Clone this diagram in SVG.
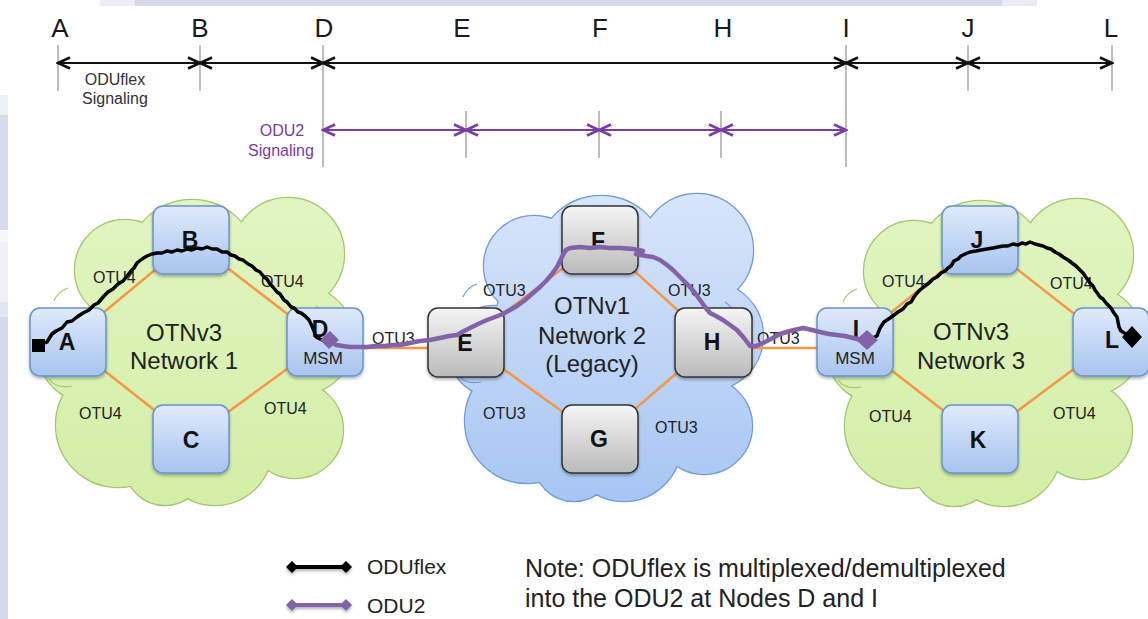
<svg xmlns="http://www.w3.org/2000/svg" xmlns:xlink="http://www.w3.org/1999/xlink" width="1148" height="619" viewBox="0 0 1148 619">
  <defs>
    <style>
      text { font-family: "Liberation Sans", Arial, sans-serif; }
      .letter { font-size: 26px; fill: #1a1a1a; text-anchor: middle; }
      .tick { stroke: #bdbdbd; stroke-width: 2; }
      .seg { stroke: #111; stroke-width: 2; fill: none; marker-start: url(#chevBlack); marker-end: url(#chevBlack); }
      .pseg { stroke: #7a3aa8; stroke-width: 2; fill: none; marker-start: url(#chevPurple); marker-end: url(#chevPurple); }
      .sig { font-size: 16px; fill: #333; text-anchor: middle; }
      .psig { font-size: 16px; fill: #7a3aa8; text-anchor: middle; }
      .link { stroke: #f79646; stroke-width: 2.5; }
      .otu { font-size: 16px; fill: #222; }
      .net { font-size: 24px; fill: #222; text-anchor: middle; }
      .nodeV3 { fill: url(#blueBox); stroke: #6a93cc; stroke-width: 1.5; filter: url(#shadow); }
      .nodeV1 { fill: url(#grayBox); stroke: #333; stroke-width: 1.5; filter: url(#shadow); }
      .nlabel { font-size: 23px; font-weight: bold; fill: #111; text-anchor: middle; }
      .msm { font-size: 17px; fill: #222; text-anchor: middle; }
      .oduflex { stroke: #000; stroke-width: 3.5; fill: none; stroke-linejoin: round; stroke-linecap: round; }
      .odu2 { stroke: #8262a8; stroke-width: 4.5; fill: none; stroke-linejoin: round; stroke-linecap: round; }
      .legend { font-size: 21px; fill: #222; }
      .note { font-size: 25px; fill: #222; }
      .curl { fill: none; stroke-width: 1.2; }
    </style>

    <!-- open chevron arrowheads for the signaling spans -->
    <marker id="chevBlack" markerUnits="userSpaceOnUse" markerWidth="16" markerHeight="14" viewBox="-14 -7 16 14" refX="0" refY="0" orient="auto-start-reverse">
      <path d="M -12 -5.5 L 0 0 L -12 5.5" fill="none" stroke="#111" stroke-width="2.6" stroke-linejoin="miter"/>
    </marker>
    <marker id="chevPurple" markerUnits="userSpaceOnUse" markerWidth="16" markerHeight="14" viewBox="-14 -7 16 14" refX="0" refY="0" orient="auto-start-reverse">
      <path d="M -12 -5.5 L 0 0 L -12 5.5" fill="none" stroke="#7a3aa8" stroke-width="2.6"/>
    </marker>

    <linearGradient id="greenCloud" gradientUnits="userSpaceOnUse" x1="0" y1="-160" x2="0" y2="160">
      <stop offset="0" stop-color="#e1f5c2"/>
      <stop offset="1" stop-color="#d3eea6"/>
    </linearGradient>
    <linearGradient id="blueCloud" gradientUnits="userSpaceOnUse" x1="0" y1="-160" x2="0" y2="160">
      <stop offset="0" stop-color="#d9e6fa"/>
      <stop offset="1" stop-color="#a6c5f3"/>
    </linearGradient>
    <linearGradient id="blueBox" x1="0" y1="0" x2="0" y2="1">
      <stop offset="0" stop-color="#dfeafb"/>
      <stop offset="1" stop-color="#a7c4ee"/>
    </linearGradient>
    <linearGradient id="grayBox" x1="0" y1="0" x2="0" y2="1">
      <stop offset="0" stop-color="#f5f5f5"/>
      <stop offset="1" stop-color="#bababa"/>
    </linearGradient>
    <filter id="shadow" x="-20%" y="-20%" width="140%" height="150%">
      <feDropShadow dx="0" dy="2" stdDeviation="1.5" flood-color="#000" flood-opacity="0.3"/>
    </filter>

    <!-- cloud made of overlapping lobes, centred on 0,0 -->
    <g id="cloudLobes">
      <circle cx="-71" cy="-81" r="50"/>
      <circle cx="-4" cy="-86" r="65"/>
      <circle cx="92" cy="-97" r="56"/>
      <circle cx="104" cy="-11" r="54"/>
      <circle cx="99" cy="79" r="48"/>
      <circle cx="19" cy="97" r="57"/>
      <circle cx="-31" cy="114" r="40"/>
      <circle cx="-78" cy="74" r="62"/>
      <circle cx="-111" cy="4" r="45"/>
      <circle cx="0" cy="-1" r="115"/>
    </g>
    <!-- small inner curls where lobes meet -->
    <path id="cloudCurls" d="M -142 -50 Q -138 -60 -128 -63 M -147 28 Q -140 38 -124 35 M 120 -45 Q 128 -40 131 -30"/>
  </defs>

  <!-- page background -->
  <rect x="0" y="0" width="1148" height="619" fill="#ffffff"/>
  <rect x="100" y="0" width="35" height="6" fill="#eceef6"/>
  <rect x="135" y="0" width="867" height="6" fill="#d5d8ea"/>
  <rect x="1002" y="0" width="35" height="6" fill="#eaecf5"/>
  <rect x="0" y="95" width="8" height="20" fill="#eef0f7"/>
  <rect x="0" y="115" width="8" height="115" fill="#d8dbeb"/>
  <rect x="0" y="230" width="8" height="12" fill="#f6f7fb"/>
  <rect x="0" y="242" width="8" height="60" fill="#eff0f7"/>
  <rect x="0" y="302" width="8" height="15" fill="#e3e5f1"/>
  <rect x="0" y="317" width="8" height="302" fill="#d6d9ea"/>

  <!-- signaling spans -->
  <g id="timeline">
    <text class="letter" x="60" y="37">A</text>
    <text class="letter" x="200" y="37">B</text>
    <text class="letter" x="324" y="37">D</text>
    <text class="letter" x="462" y="37">E</text>
    <text class="letter" x="600" y="37">F</text>
    <text class="letter" x="723" y="37">H</text>
    <text class="letter" x="846" y="37">I</text>
    <text class="letter" x="968" y="37">J</text>
    <text class="letter" x="1111" y="37">L</text>

    <line class="tick" x1="58" y1="45" x2="58" y2="91"/>
    <line class="tick" x1="200" y1="45" x2="200" y2="91"/>
    <line class="tick" x1="323" y1="45" x2="323" y2="167"/>
    <line class="tick" x1="846" y1="45" x2="846" y2="167"/>
    <line class="tick" x1="968" y1="45" x2="968" y2="91"/>
    <line class="tick" x1="1112" y1="45" x2="1112" y2="91"/>
    <line class="tick" x1="466" y1="111" x2="466" y2="158"/>
    <line class="tick" x1="599" y1="111" x2="599" y2="158"/>
    <line class="tick" x1="721" y1="111" x2="721" y2="158"/>

    <line class="seg" x1="58" y1="63" x2="200" y2="63"/>
    <line class="seg" x1="200" y1="63" x2="323" y2="63"/>
    <line class="seg" x1="323" y1="63" x2="846" y2="63"/>
    <line class="seg" x1="846" y1="63" x2="968" y2="63"/>
    <line class="seg" x1="968" y1="63" x2="1112" y2="63"/>

    <line class="pseg" x1="323" y1="130" x2="466" y2="130"/>
    <line class="pseg" x1="466" y1="130" x2="599" y2="130"/>
    <line class="pseg" x1="599" y1="130" x2="721" y2="130"/>
    <line class="pseg" x1="721" y1="130" x2="846" y2="130"/>

    <text class="sig" x="115" y="85">ODUflex</text>
    <text class="sig" x="115" y="104">Signaling</text>
    <text class="psig" x="282" y="136">ODU2</text>
    <text class="psig" x="281" y="156">Signaling</text>
  </g>

  <!-- network clouds: outline pass, then fill pass, then curls -->
  <g id="cloud1" transform="translate(196,351)">
    <use xlink:href="#cloudLobes" href="#cloudLobes" fill="none" stroke="#a4c66c" stroke-width="2.4"/>
    <use xlink:href="#cloudLobes" href="#cloudLobes" fill="url(#greenCloud)" stroke="none"/>
    <use xlink:href="#cloudCurls" href="#cloudCurls" class="curl" stroke="#a4c66c"/>
  </g>
  <g id="cloud2" transform="translate(605,347)">
    <use xlink:href="#cloudLobes" href="#cloudLobes" fill="none" stroke="#6f9bd6" stroke-width="2.4"/>
    <use xlink:href="#cloudLobes" href="#cloudLobes" fill="url(#blueCloud)" stroke="none"/>
    <use xlink:href="#cloudCurls" href="#cloudCurls" class="curl" stroke="#6f9bd6"/>
  </g>
  <g id="cloud3" transform="translate(985,352)">
    <use xlink:href="#cloudLobes" href="#cloudLobes" fill="none" stroke="#a4c66c" stroke-width="2.4"/>
    <use xlink:href="#cloudLobes" href="#cloudLobes" fill="url(#greenCloud)" stroke="none"/>
    <use xlink:href="#cloudCurls" href="#cloudCurls" class="curl" stroke="#a4c66c"/>
  </g>

  <!-- OTU links -->
  <g id="links">
    <line class="link" x1="68" y1="342" x2="191" y2="240"/>
    <line class="link" x1="191" y1="240" x2="324" y2="342"/>
    <line class="link" x1="324" y1="342" x2="191" y2="439"/>
    <line class="link" x1="191" y1="439" x2="68" y2="342"/>
    <line class="link" x1="340" y1="348" x2="450" y2="348"/>
    <line class="link" x1="466" y1="342" x2="600" y2="240"/>
    <line class="link" x1="600" y1="240" x2="713" y2="342"/>
    <line class="link" x1="713" y1="342" x2="600" y2="439"/>
    <line class="link" x1="600" y1="439" x2="466" y2="342"/>
    <line class="link" x1="735" y1="348" x2="840" y2="348"/>
    <line class="link" x1="855" y1="342" x2="980" y2="240"/>
    <line class="link" x1="980" y1="240" x2="1110" y2="342"/>
    <line class="link" x1="1110" y1="342" x2="980" y2="439"/>
    <line class="link" x1="980" y1="439" x2="855" y2="342"/>
  </g>

  <g id="linkLabels">
    <text class="otu" x="93" y="283">OTU4</text>
    <text class="otu" x="261" y="287">OTU4</text>
    <text class="otu" x="79" y="419">OTU4</text>
    <text class="otu" x="264" y="414">OTU4</text>
    <text class="otu" x="372" y="344">OTU3</text>
    <text class="otu" x="483" y="296">OTU3</text>
    <text class="otu" x="668" y="296">OTU3</text>
    <text class="otu" x="483" y="419">OTU3</text>
    <text class="otu" x="655" y="433">OTU3</text>
    <text class="otu" x="757" y="344">OTU3</text>
    <text class="otu" x="882" y="287">OTU4</text>
    <text class="otu" x="1050" y="289">OTU4</text>
    <text class="otu" x="869" y="422">OTU4</text>
    <text class="otu" x="1053" y="419">OTU4</text>
  </g>

  <g id="netLabels">
    <text class="net" x="184" y="341">OTNv3</text>
    <text class="net" x="184" y="369">Network 1</text>
    <text class="net" x="592" y="314">OTNv1</text>
    <text class="net" x="592" y="344">Network 2</text>
    <text class="net" x="592" y="372">(Legacy)</text>
    <text class="net" x="971" y="340">OTNv3</text>
    <text class="net" x="971" y="369">Network 3</text>
  </g>

  <!-- nodes -->
  <g id="nodeA"><rect class="nodeV3" x="30" y="308" width="76" height="68" rx="10"/><text class="nlabel" x="67" y="350">A</text></g>
  <g id="nodeB"><rect class="nodeV3" x="153" y="206" width="76" height="68" rx="10"/><text class="nlabel" x="190" y="248">B</text></g>
  <g id="nodeC"><rect class="nodeV3" x="153" y="405" width="76" height="68" rx="10"/><text class="nlabel" x="191" y="448">C</text></g>
  <g id="nodeD"><rect class="nodeV3" x="287" y="308" width="76" height="68" rx="10"/><text class="nlabel" x="320" y="337">D</text><text class="msm" x="323" y="364">MSM</text></g>
  <g id="nodeE"><rect class="nodeV1" x="428" y="308" width="76" height="69" rx="10"/><text class="nlabel" x="465" y="351">E</text></g>
  <g id="nodeF"><rect class="nodeV1" x="562" y="206" width="76" height="68" rx="10"/><text class="nlabel" x="598" y="249">F</text></g>
  <g id="nodeG"><rect class="nodeV1" x="562" y="405" width="76" height="68" rx="10"/><text class="nlabel" x="599" y="447">G</text></g>
  <g id="nodeH"><rect class="nodeV1" x="675" y="308" width="77" height="69" rx="10"/><text class="nlabel" x="712" y="350">H</text></g>
  <g id="nodeI"><rect class="nodeV3" x="817" y="308" width="76" height="68" rx="10"/><text class="nlabel" x="856" y="337">I</text><text class="msm" x="855" y="364">MSM</text></g>
  <g id="nodeJ"><rect class="nodeV3" x="942" y="206" width="76" height="68" rx="10"/><text class="nlabel" x="977" y="248">J</text></g>
  <g id="nodeK"><rect class="nodeV3" x="942" y="405" width="76" height="68" rx="10"/><text class="nlabel" x="978" y="448">K</text></g>
  <g id="nodeL"><rect class="nodeV3" x="1073" y="308" width="76" height="68" rx="10"/><text class="nlabel" x="1112" y="348">L</text></g>

  <!-- end-to-end paths -->
  <g id="connectors">
    <path class="oduflex" d="M 40 345 L 47 342 L 52 334 L 56 331 L 62 328 L 67 322 L 72 321 L 77 317 L 83 313 L 89 310 L 94 305 L 98 303 L 104 296 L 108 292 L 113 289 L 118 284 L 123 281 L 127 276 L 131 271 L 134 268 L 137 263 L 142 259 L 147 256 L 152 254 L 157 253 L 162 253 L 167 251 L 172 252 L 177 250 L 182 251 L 187 249 L 192 250 L 197 248 L 202 249 L 207 247 L 212 249 L 217 249 L 222 252 L 227 252 L 231 255 L 235 256 L 239 259 L 243 260 L 248 264 L 252 266 L 256 270 L 260 272 L 264 277 L 267 279 L 270 284 L 273 287 L 277 292 L 280 294 L 284 300 L 287 302 L 291 307 L 294 308 L 298 312 L 301 313 L 305 316 L 309 320 L 312 326 L 314 331 L 316 337 L 322 340"/>
    <path class="oduflex" d="M 868 340 L 877 336 L 880 328 L 884 322 L 890 318 L 894 315 L 898 312 L 903 309 L 907 304 L 911 302 L 914 297 L 917 293 L 920 290 L 925 286 L 929 283 L 933 279 L 937 277 L 941 273 L 945 271 L 948 268 L 951 266 L 954 261 L 958 259 L 961 256 L 965 254 L 970 252 L 976 251 L 981 250 L 987 249 L 993 248 L 998 247 L 1003 246 L 1008 246 L 1013 244 L 1018 245 L 1022 243 L 1026 244 L 1030 242 L 1035 244 L 1039 245 L 1043 246 L 1047 248 L 1051 249 L 1055 252 L 1059 254 L 1063 257 L 1068 260 L 1072 263 L 1076 266 L 1080 270 L 1083 273 L 1085 276 L 1088 280 L 1090 283 L 1093 286 L 1095 290 L 1098 294 L 1100 297 L 1103 299 L 1106 303 L 1109 306 L 1111 308 L 1114 313 L 1117 317 L 1118 322 L 1119 327 L 1121 331 L 1126 334 L 1132 337"/>
    <rect x="32" y="339" width="13" height="13" fill="#000"/>
    <polygon points="1132,326 1142,337 1132,348 1122,337" fill="#000"/>

    <path class="odu2" d="M 330 341 L 336 345 L 343 346 L 350 347 L 358 347 L 367 347 L 376 346 L 385 346 L 393 345 L 400 345 L 410 343 L 420 341 L 430 340 L 440 338 L 449 336 L 457 335 L 464 331 L 470 328 L 478 324 L 487 320 L 495 317 L 503 314 L 510 310 L 517 306 L 525 300 L 533 293 L 540 287 L 547 280 L 552 274 L 557 267 L 560 261 L 563 255 L 566 250 L 570 248 L 580 247 L 590 248 L 600 247 L 610 248 L 620 248 L 633 249 L 643 251 L 636 254 L 646 256 L 653 257 L 660 260 L 667 265 L 673 270 L 681 278 L 690 287 L 695 293 L 700 300 L 705 307 L 710 313 L 716 316 L 723 320 L 730 325 L 737 330 L 744 338 L 750 346 L 756 346 L 763 343 L 771 339 L 780 334 L 790 331 L 803 328 L 812 330 L 820 332 L 829 334 L 837 335 L 845 336 L 853 338 L 866 341"/>
    <polygon points="330,331 339,340 329,349 320,340" fill="#8262a8"/>
    <polygon points="867,330 878,340 867,350 856,340" fill="#8262a8"/>
  </g>

  <!-- legend and note -->
  <g id="legend">
    <g filter="url(#shadow)">
      <line x1="292" y1="567" x2="346" y2="567" stroke="#000" stroke-width="4"/>
      <polygon points="286,567 292,561 298,567 292,573" fill="#000"/>
      <polygon points="340,567 346,561 352,567 346,573" fill="#000"/>
      <line x1="292" y1="605" x2="346" y2="605" stroke="#8262a8" stroke-width="4"/>
      <polygon points="286,605 292,599 298,605 292,611" fill="#8262a8"/>
      <polygon points="340,605 346,599 352,605 346,611" fill="#8262a8"/>
    </g>
    <text class="legend" x="367" y="574">ODUflex</text>
    <text class="legend" x="367" y="613">ODU2</text>
    <text class="note" x="525" y="577">Note: ODUflex is multiplexed/demultiplexed</text>
    <text class="note" x="525" y="607">into the ODU2 at Nodes D and I</text>
  </g>
</svg>
